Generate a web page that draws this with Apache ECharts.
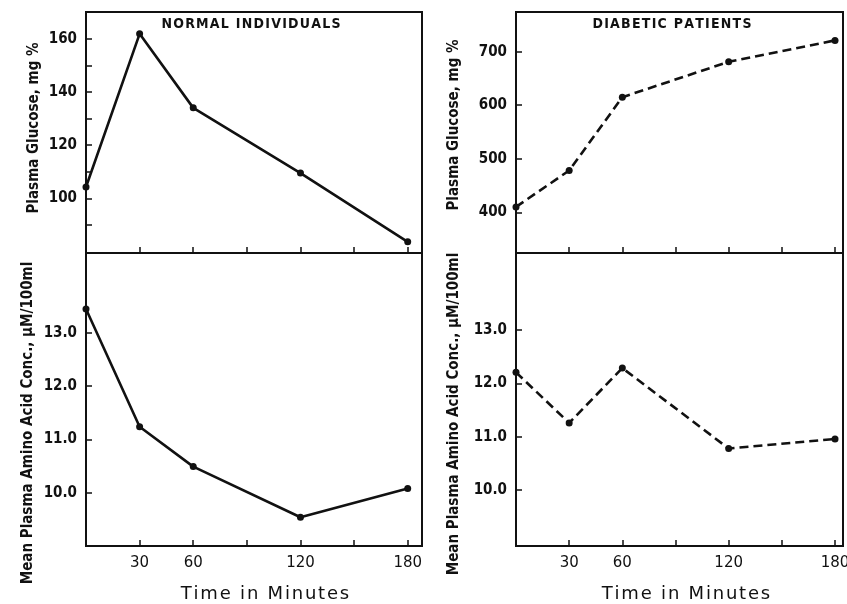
<!DOCTYPE html>
<html>
<head>
<meta charset="utf-8">
<script src="https://cdn.jsdelivr.net/npm/echarts@6/dist/echarts.min.js"></script>
<style>
html,body{margin:0;padding:0;background:#fff;}
#chart{width:847px;height:604px;}
</style>
</head>
<body>
<div id="chart"></div>
<script>
// ---- data ----
const times = [0, 30, 60, 120, 180];
const normalGlucose = [104.3, 161.8, 134.0, 109.5, 83.7];
const diabeticGlucose = [410, 478, 615, 681, 721];
const normalAmino = [13.45, 11.24, 10.49, 9.54, 10.08];
const diabeticAmino = [12.21, 11.26, 12.29, 10.78, 10.96];

const timeTickValues = [30, 60, 90, 120, 150, 180];
const timeLabelValues = [30, 60, 120, 180];
const normalGlucoseTicks = [90, 100, 110, 120, 130, 140, 150, 160];
const normalGlucoseLabels = [100, 120, 140, 160];
const diabeticGlucoseTicks = [400, 500, 600, 700];
const aminoTicks = [10, 11, 12, 13];

const panelTitles = ['NORMAL INDIVIDUALS', 'DIABETIC PATIENTS'];
const glucoseName = 'Plasma Glucose, mg %';
const aminoName = 'Mean Plasma Amino Acid Conc., \u03bcM/100ml';
const timeName = 'Time in Minutes';

// ---- chart ----
const INK = '#111';
const FONT = 'DejaVu Sans';
const COND = 'DejaVu Sans Condensed';
const chart = echarts.init(document.getElementById('chart'), null, {renderer: 'canvas'});

const grids = [
  {left: 86, top: 12, width: 336, height: 241},
  {left: 86, top: 253, width: 336, height: 293},
  {left: 516, top: 12, width: 327, height: 241},
  {left: 516, top: 253, width: 327, height: 293}
].map(g => Object.assign({show: true, borderColor: INK, borderWidth: 2, backgroundColor: 'transparent',
  containLabel: false, outerBoundsMode: 'none'}, g));

function xAx(gi, max, showLabels) {
  return {
    type: 'value', gridIndex: gi, min: 0, max: max,
    axisLine: {show: true, onZero: false, lineStyle: {color: INK, width: 2}},
    axisTick: {show: true, inside: true, length: 6, customValues: timeTickValues, lineStyle: {color: INK, width: 1.5}},
    axisLabel: {show: showLabels, customValues: timeLabelValues, margin: 10, color: INK, fontSize: 15, fontFamily: FONT},
    splitLine: {show: false}
  };
}
function yAx(gi, min, max, ticks, labels, fmt) {
  return {
    type: 'value', gridIndex: gi, min: min, max: max,
    axisLine: {show: true, onZero: false, lineStyle: {color: INK, width: 2}},
    axisTick: {show: true, inside: true, length: 6, customValues: ticks, lineStyle: {color: INK, width: 1.5}},
    axisLabel: {show: true, customValues: labels, margin: 9, color: INK, fontSize: 15, fontWeight: 'bold', fontFamily: COND, formatter: fmt},
    splitLine: {show: false}
  };
}

function pairs(ys) { return times.map((t, i) => [t, ys[i]]); }

function lineSeries(gi, ys, dashed) {
  return {
    type: 'line', xAxisIndex: gi, yAxisIndex: gi, data: pairs(ys),
    symbol: 'circle', symbolSize: 7, clip: false,
    itemStyle: {color: INK},
    lineStyle: {color: INK, width: 2.6, type: dashed ? [9, 5] : 'solid'},
    animation: false
  };
}

function vText(x, y, text, size, family, weight) {
  return {type: 'text', x: x, y: y, rotation: Math.PI / 2,
    style: {text: text, fill: INK, font: (weight || 'normal') + ' ' + size + 'px "' + family + '"', textAlign: 'center', textVerticalAlign: 'middle'}};
}
function hText(x, y, text, size, family, weight) {
  return {type: 'text', x: x, y: y,
    style: {text: text, fill: INK, font: (weight || 'normal') + ' ' + size + 'px "' + family + '"', textAlign: 'center', textVerticalAlign: 'middle'}};
}
const spaced = s => s.split('').join('\u200a');

const fmt1 = v => v.toFixed(1);
const fmt0 = v => String(v);

chart.setOption({
  animation: false,
  backgroundColor: '#fff',
  grid: grids,
  xAxis: [xAx(0, 188, false), xAx(1, 188, true), xAx(2, 184.5, false), xAx(3, 184.5, true)],
  yAxis: [
    yAx(0, 79.5, 170, normalGlucoseTicks, normalGlucoseLabels, fmt0),
    yAx(1, 9.0, 14.5, aminoTicks, aminoTicks, fmt1),
    yAx(2, 324, 774, diabeticGlucoseTicks, diabeticGlucoseTicks, fmt0),
    yAx(3, 8.95, 14.45, aminoTicks, aminoTicks, fmt1)
  ],
  series: [
    lineSeries(0, normalGlucose, false),
    lineSeries(1, normalAmino, false),
    lineSeries(2, diabeticGlucose, true),
    lineSeries(3, diabeticAmino, true)
  ],
  graphic: [
    hText(251, 24, spaced(panelTitles[0]), 14, COND, 'bold'),
    hText(672, 24, spaced(panelTitles[1]), 14, COND, 'bold'),
    hText(265, 594, spaced(timeName), 18, FONT),
    hText(686, 594, spaced(timeName), 18, FONT),
    vText(34, 128, glucoseName, 15, COND, 'bold'),
    vText(454, 125, glucoseName, 15, COND, 'bold'),
    vText(28, 423, aminoName, 15, COND, 'bold'),
    vText(454, 414, aminoName, 15, COND, 'bold')
  ]
});
</script>
</body>
</html>
